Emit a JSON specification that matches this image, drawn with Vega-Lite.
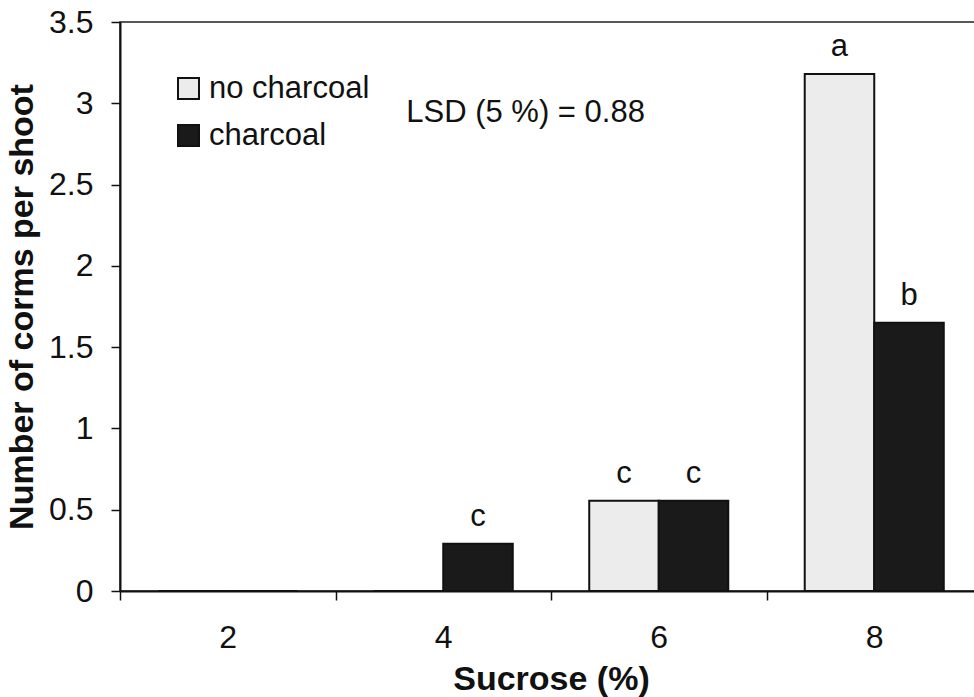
{
  "$schema": "https://vega.github.io/schema/vega-lite/v6.json",
  "width": 862,
  "height": 569,
  "autosize": {"type": "none"},
  "padding": {"left": 120, "top": 22, "right": 0, "bottom": 106},
  "config": {
    "font": "Liberation Sans",
    "view": {"stroke": "#222", "strokeWidth": 1.5},
    "axis": {"domainColor": "#111", "tickColor": "#111", "labelColor": "#111", "titleColor": "#111", "grid": false}
  },
  "datasets": {
    "bars": [
      {"sucrose": "2", "treatment": "no charcoal", "corms": 0, "letter": ""},
      {"sucrose": "2", "treatment": "charcoal", "corms": 0, "letter": ""},
      {"sucrose": "4", "treatment": "no charcoal", "corms": 0, "letter": ""},
      {"sucrose": "4", "treatment": "charcoal", "corms": 0.29, "letter": "c"},
      {"sucrose": "6", "treatment": "no charcoal", "corms": 0.555, "letter": "c"},
      {"sucrose": "6", "treatment": "charcoal", "corms": 0.555, "letter": "c"},
      {"sucrose": "8", "treatment": "no charcoal", "corms": 3.18, "letter": "a"},
      {"sucrose": "8", "treatment": "charcoal", "corms": 1.65, "letter": "b"}
    ],
    "note": [{"sucrose": "4", "corms": 2.886, "note": "LSD (5 %) = 0.88"}]
  },
  "layer": [
    {
      "data": {"name": "bars"},
      "mark": {"type": "bar", "stroke": "#111", "strokeWidth": 2},
      "encoding": {
        "x": {
          "field": "sucrose", "type": "nominal", "sort": ["2", "4", "6", "8"],
          "scale": {"domain": ["2", "4", "6", "8"], "paddingInner": 0, "paddingOuter": 0},
          "axis": {
            "title": "Sucrose (%)", "labelAngle": 0, "labelFontSize": 32, "labelPadding": 22,
            "tickSize": 9, "tickBand": "extent", "tickWidth": 1.5, "domainWidth": 2,
            "titleFontSize": 34, "titleFontWeight": "bold", "titlePadding": 9
          }
        },
        "xOffset": {
          "field": "treatment", "type": "nominal", "sort": ["no charcoal", "charcoal"],
          "scale": {"paddingInner": 0, "paddingOuter": 0.55}
        },
        "y": {
          "field": "corms", "type": "quantitative",
          "scale": {"domain": [0, 3.5], "nice": false},
          "axis": {
            "title": "Number of corms per shoot",
            "values": [0, 0.5, 1, 1.5, 2, 2.5, 3, 3.5], "format": "~g",
            "labelFontSize": 32, "labelPadding": 18, "tickSize": 9, "tickWidth": 1.5, "domainWidth": 2,
            "titleFontSize": 34, "titleFontWeight": "bold", "titlePadding": 9
          }
        },
        "color": {
          "field": "treatment", "type": "nominal", "sort": ["no charcoal", "charcoal"],
          "scale": {"domain": ["no charcoal", "charcoal"], "range": ["#ececec", "#1a1a1a"]},
          "legend": {
            "title": null, "orient": "none", "legendX": 53, "legendY": 51,
            "labelFontSize": 31, "labelColor": "#111", "labelLimit": 400, "symbolType": "square", "symbolSize": 441,
            "symbolStrokeColor": "#111", "symbolStrokeWidth": 2, "rowPadding": 15,
            "labelOffset": 5, "padding": 0
          }
        }
      }
    },
    {
      "data": {"name": "bars"},
      "mark": {"type": "text", "fontSize": 31, "baseline": "alphabetic", "dy": -18, "color": "#111"},
      "encoding": {
        "x": {"field": "sucrose", "type": "nominal", "sort": ["2", "4", "6", "8"]},
        "xOffset": {"field": "treatment", "type": "nominal", "sort": ["no charcoal", "charcoal"]},
        "y": {"field": "corms", "type": "quantitative"},
        "text": {"field": "letter"}
      }
    },
    {
      "data": {"name": "note"},
      "mark": {"type": "text", "fontSize": 31, "align": "left", "baseline": "alphabetic", "dx": -37, "color": "#111"},
      "encoding": {
        "x": {"field": "sucrose", "type": "nominal", "sort": ["2", "4", "6", "8"]},
        "y": {"field": "corms", "type": "quantitative"},
        "text": {"field": "note"}
      }
    }
  ]
}
